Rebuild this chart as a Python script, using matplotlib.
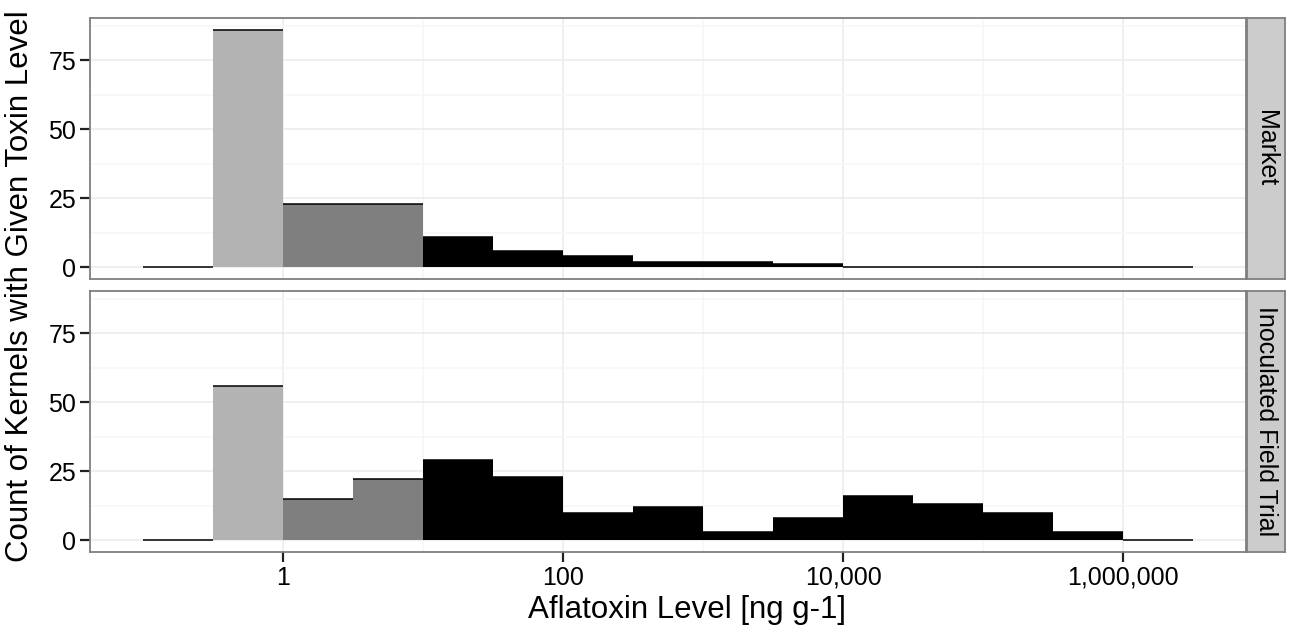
import numpy as np
import matplotlib.pyplot as plt
from matplotlib.ticker import FixedLocator, NullFormatter

plt.rcParams['font.family'] = ['Liberation Sans', 'DejaVu Sans']

# histogram bins on log10 scale, width 0.5
bin_edges_log = np.arange(-1.0, 7.0, 0.5)
panels = ["Market", "Inoculated Field Trial"]
market_counts = [0, 86, 23, 23, 11, 6, 4, 2, 2, 1, 0, 0, 0, 0, 0]
field_counts = [0, 56, 15, 22, 29, 23, 10, 12, 3, 8, 16, 13, 10, 3, 0]
# fill by toxin class: <1 light grey, 1-10 dark grey, >10 black
bin_colors = ['white', '#b3b3b3', '#7f7f7f', '#7f7f7f'] + ['black'] * 11
x_ticks = [1, 100, 1e4, 1e6]
x_tick_labels = ["1", "100", "10,000", "1,000,000"]
y_ticks = [0, 25, 50, 75]

W, H = 1290, 631
fig = plt.figure(figsize=(W / 100, H / 100), dpi=100)

left, right = 90, 1246
boxes = [(18, 279), (291, 552)]
edges = 10 ** bin_edges_log
lo, hi = edges[:-1], edges[1:]

for (top, bot), name, counts in zip(boxes, panels, [market_counts, field_counts]):
    ax = fig.add_axes([left / W, 1 - bot / H, (right - left) / W, (bot - top) / H])
    ax.set_xscale('log')
    ax.bar(lo, counts, width=hi - lo, align='edge', color=bin_colors, linewidth=0, zorder=2)
    ax.hlines(counts, lo, hi, color='black', lw=1.1, zorder=3)
    ax.set_xlim(10 ** -1.375, 10 ** 6.875)
    ax.set_ylim(-4.3, 90.3)

    ax.xaxis.set_major_locator(FixedLocator(x_ticks))
    ax.xaxis.set_minor_locator(FixedLocator([10, 1e3, 1e5]))
    ax.xaxis.set_minor_formatter(NullFormatter())
    ax.yaxis.set_major_locator(FixedLocator(y_ticks))
    ax.yaxis.set_minor_locator(FixedLocator([12.5, 37.5, 62.5, 87.5]))
    ax.grid(which='major', color='#ebebeb', lw=1.1, zorder=0)
    ax.grid(which='minor', color='#f7f7f7', lw=1.1, zorder=0)
    ax.set_axisbelow(True)
    ax.tick_params(which='minor', length=0)
    ax.tick_params(which='major', length=7, width=1.6, color='#222222',
                   labelsize=18, labelcolor='black', pad=3)
    ax.set_yticklabels([str(v) for v in y_ticks])
    for s in ax.spines.values():
        s.set_color('#7f7f7f')
        s.set_linewidth(1.3)

    if name == panels[-1]:
        ax.set_xticklabels(x_tick_labels)
    else:
        ax.set_xticklabels([])
        ax.tick_params(axis='x', length=0)

    # facet strip
    sax = fig.add_axes([1247 / W, 1 - bot / H, 38 / W, (bot - top) / H])
    sax.set_facecolor('#cccccc')
    sax.set_xticks([])
    sax.set_yticks([])
    for s in sax.spines.values():
        s.set_color('#7f7f7f')
        s.set_linewidth(1.3)
    sax.text(0.5, 0.5, name, rotation=-90, ha='center', va='center',
             fontsize=18, transform=sax.transAxes)

fig.text(687 / W, 1 - 610 / H, "Aflatoxin Level [ng g-1]",
         ha='center', va='center', fontsize=22.5)
fig.text(20 / W, 1 - 286 / H, "Count of Kernels with Given Toxin Level",
         rotation=90, ha='center', va='center', fontsize=22.5)

fig.savefig("out.png", dpi=100)
